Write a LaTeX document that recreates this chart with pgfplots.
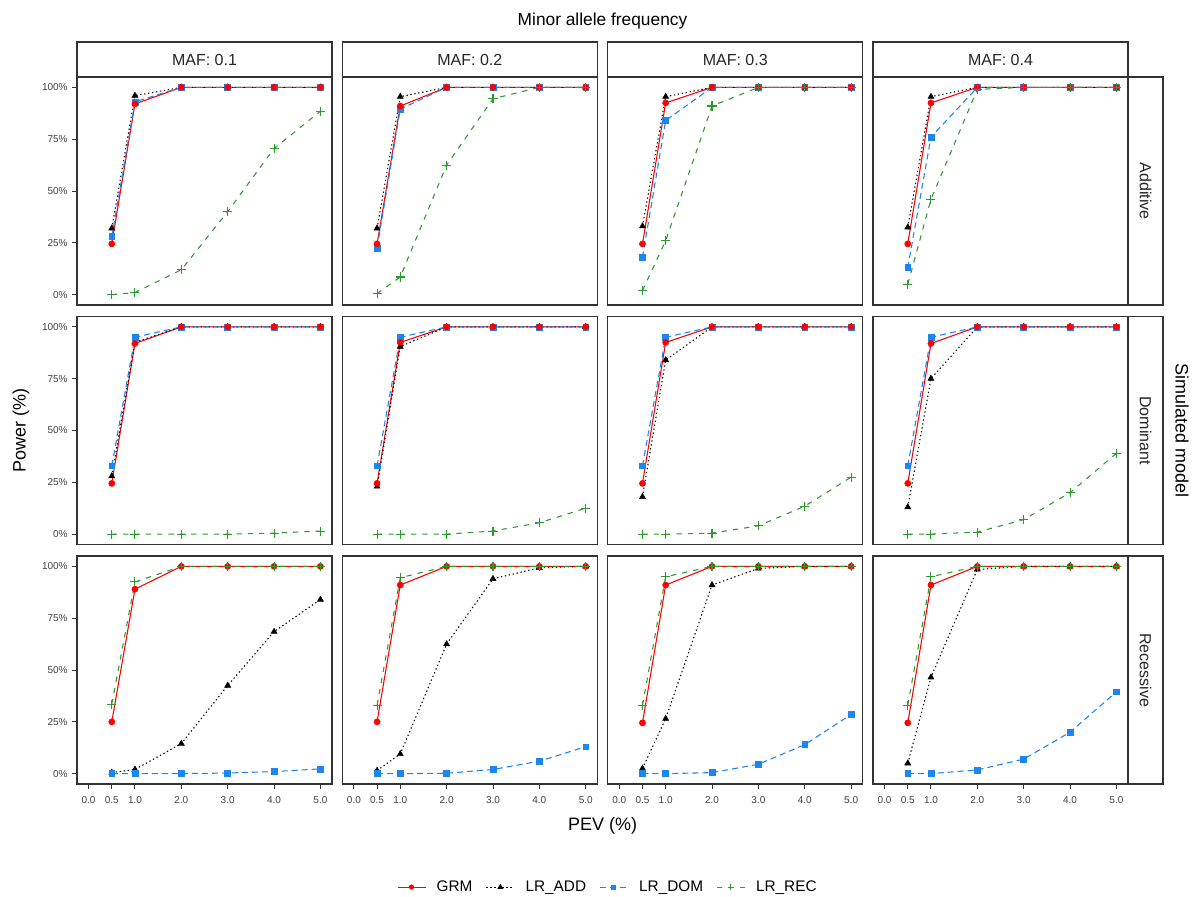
\documentclass[border=0pt]{standalone}
\usepackage{fontspec}
\setmainfont{Liberation Sans}
\usepackage{pgfplots}
\pgfplotsset{compat=1.18}
\usepackage{pgfplotstable}
\definecolor{cGRM}{HTML}{FF0000}
\definecolor{cADD}{HTML}{000000}
\definecolor{cDOM}{HTML}{1C86EE}
\definecolor{cREC}{HTML}{2C9A2C}
\definecolor{frame}{HTML}{333333}

% Additive
\pgfplotstableread{
x grm add dom rec
0.5 24.5 32 28 0
1 92 96 93 1
2 100 100 100 12
3 100 100 100 40
4 100 100 100 70.5
5 100 100 100 88.5
}\tAone
\pgfplotstableread{
x grm add dom rec
0.5 24.5 32 22.5 0.5
1 91 95.5 89.5 8.5
2 100 100 100 62.5
3 100 100 100 94.5
4 100 100 100 100
5 100 100 100 100
}\tAtwo
\pgfplotstableread{
x grm add dom rec
0.5 24.5 33 18 2
1 92.5 95.5 84 26
2 100 100 100 91
3 100 100 100 100
4 100 100 100 100
5 100 100 100 100
}\tAthree
\pgfplotstableread{
x grm add dom rec
0.5 24.5 32.5 13 5
1 92.5 95.5 76 46
2 100 100 100 99
3 100 100 100 100
4 100 100 100 100
5 100 100 100 100
}\tAfour
% Dominant
\pgfplotstableread{
x grm add dom rec
0.5 24.5 28 33 0
1 92 92.5 95 0
2 100 100 100 0
3 100 100 100 0
4 100 100 100 0.5
5 100 100 100 1.5
}\tDone
\pgfplotstableread{
x grm add dom rec
0.5 24.5 23 33 0
1 92.5 90.5 95 0
2 100 100 100 0
3 100 100 100 1.5
4 100 100 100 5.5
5 100 100 100 12.5
}\tDtwo
\pgfplotstableread{
x grm add dom rec
0.5 24.5 18 33 0
1 92.5 84 95 0
2 100 100 100 0.5
3 100 100 100 4
4 100 100 100 13.5
5 100 100 100 27.5
}\tDthree
\pgfplotstableread{
x grm add dom rec
0.5 24.5 13 33 0
1 92 75 95 0
2 100 100 100 1
3 100 100 100 7
4 100 100 100 20
5 100 100 100 39
}\tDfour
% Recessive
\pgfplotstableread{
x grm add dom rec
0.5 25 0.5 0 33.5
1 89 2 0 92.5
2 100 14.5 0 100
3 100 42.5 0.3 100
4 100 68.5 1 100
5 100 84 2.3 100
}\tRone
\pgfplotstableread{
x grm add dom rec
0.5 25 1.5 0 33
1 91 9.5 0 94.5
2 100 62.5 0.2 100
3 100 94 2 100
4 100 99.3 6 100
5 100 100 13 100
}\tRtwo
\pgfplotstableread{
x grm add dom rec
0.5 24.5 2.5 0 33
1 91 26.5 0 95
2 100 91 0.5 100
3 100 99 4.5 100
4 100 100 14 100
5 100 100 28.5 100
}\tRthree
\pgfplotstableread{
x grm add dom rec
0.5 24.5 5 0 33
1 91 46.5 0 95
2 100 98.5 1.8 100
3 100 100 7 100
4 100 100 20 100
5 100 100 39.5 100
}\tRfour

\pgfplotsset{
  panel/.style={
    scale only axis, width=191.25pt, height=171pt,
    xmin=-0.25, xmax=5.25, ymin=-5, ymax=105,
    axis line style={frame, line width=0.9pt},
    tick style={frame, line width=0.7pt},
    tick align=outside, major tick length=3.5pt,
    xtick=\empty, ytick=\empty,
    xtick pos=left, ytick pos=left,
    ticklabel style={font=\fontsize{7.5}{8}\selectfont, text=black!75},
    xticklabel style={yshift=-2pt},
    anchor=north west,
  },
  leftcol/.style={ytick={0,25,50,75,100}, yticklabels={0\%,25\%,50\%,75\%,100\%}},
  bottomrow/.style={xtick={0,0.5,1,2,3,4,5}, xticklabels={0.0,0.5,1.0,2.0,3.0,4.0,5.0}},
  lGRM/.style={forget plot, cGRM, solid, line width=0.8pt, mark=none},
  lADD/.style={forget plot, cADD, line width=0.8pt, dash pattern=on 1pt off 2pt, mark=none},
  lDOM/.style={forget plot, cDOM, line width=0.8pt, dash pattern=on 4.5pt off 3pt, mark=none},
  lREC/.style={forget plot, cREC, line width=0.8pt, dash pattern=on 4pt off 4.5pt, mark=none},
  mGRM/.style={mark=*, mark size=2.3pt, mark options={solid, fill=cGRM, draw=cGRM}},
  mADD/.style={mark=triangle*, mark size=2.6pt, mark options={solid, fill=cADD, draw=cADD}},
  mDOM/.style={mark=square*, mark size=2.2pt, mark options={solid, fill=cDOM, draw=cDOM}},
  mREC/.style={mark=+, mark size=3.4pt, mark options={solid, draw=cREC, line width=0.8pt}},
}

\newcommand\panelplots[1]{%
  \addplot[lGRM] table[x=x,y=grm]{#1};
  \addplot[lADD] table[x=x,y=add]{#1};
  \addplot[lDOM] table[x=x,y=dom]{#1};
  \addplot[lREC] table[x=x,y=rec]{#1};
  \addplot[forget plot, only marks, mADD] table[x=x,y=add]{#1};
  \addplot[forget plot, only marks, mDOM] table[x=x,y=dom]{#1};
  \addplot[forget plot, only marks, mGRM] table[x=x,y=grm]{#1};
  \addplot[forget plot, only marks, mREC] table[x=x,y=rec]{#1};
}
\newcommand\panel[4]{%
\begin{axis}[panel, at={(#2*0.75pt,-#3*0.75pt)}, #4]
  \panelplots{#1}
\end{axis}}

\begin{document}
\begin{tikzpicture}
\useasboundingbox (0,0) rectangle (1195*0.75pt,-896*0.75pt);
% row 1
\panel{\tAone}{77}{77}{leftcol}
\panel{\tAtwo}{342.3}{77}{}
\panel{\tAthree}{607.7}{77}{}
\panel{\tAfour}{873}{77}{}
% row 2
\panel{\tDone}{77}{316.5}{leftcol}
\panel{\tDtwo}{342.3}{316.5}{}
\panel{\tDthree}{607.7}{316.5}{}
\panel{\tDfour}{873}{316.5}{}
% row 3
\begin{axis}[panel, at={(77*0.75pt,-556*0.75pt)}, leftcol, bottomrow,
  legend style={at={(2.083,-0.452)}, anchor=center, draw=none, fill=none,
    legend columns=4, font=\fontsize{11.5}{13}\selectfont,
    /tikz/every odd column/.append style={column sep=6pt},
    /tikz/every even column/.append style={column sep=8pt}},
  legend image code/.code={\draw[mark repeat=2, mark phase=2] plot coordinates {(0pt,0pt) (10.5pt,0pt) (21pt,0pt)};}]
  \panelplots{\tRone}
  \addlegendimage{cGRM, solid, line width=0.8pt, mark=*, mark size=1.5pt, mark options={solid, fill=cGRM}}
  \addlegendimage{cADD, line width=0.8pt, dash pattern=on 1pt off 2pt, mark=triangle*, mark size=1.8pt, mark options={solid, fill=cADD}}
  \addlegendimage{cDOM, line width=0.8pt, dash pattern=on 4.5pt off 3pt, mark=square*, mark size=1.5pt, mark options={solid, fill=cDOM}}
  \addlegendimage{cREC, line width=0.8pt, dash pattern=on 4pt off 4.5pt, mark=+, mark size=2.5pt, mark options={solid}}
  \legend{GRM, LR\_ADD, LR\_DOM, LR\_REC}
\end{axis}
\panel{\tRtwo}{342.3}{556}{bottomrow}
\panel{\tRthree}{607.7}{556}{bottomrow}
\panel{\tRfour}{873}{556}{bottomrow}

% top strips
\foreach \L/\lab in {77/{MAF: 0.1}, 342.3/{MAF: 0.2}, 607.7/{MAF: 0.3}, 873/{MAF: 0.4}} {
  \draw[frame, line width=0.9pt, fill=white] (\L*0.75pt,-42*0.75pt) rectangle ({(\L+255)*0.75pt},-77*0.75pt);
  \node[text=black!85, font=\fontsize{12}{14}\selectfont] at ({(\L+127.5)*0.75pt},-59.5*0.75pt) {\lab};
}
% right strips
\foreach \T/\lab in {77/Additive, 316.5/Dominant, 556/Recessive} {
  \draw[frame, line width=0.9pt, fill=white] (1128*0.75pt,-\T*0.75pt) rectangle (1163*0.75pt,{-(\T+228)*0.75pt});
  \node[text=black!85, rotate=-90, font=\fontsize{12}{14}\selectfont] at (1145.5*0.75pt,{-(\T+114)*0.75pt}) {\lab};
}
% titles
\node[font=\fontsize{13}{15}\selectfont] at (602.5*0.75pt,-21*0.75pt) {Minor allele frequency};
\node[font=\fontsize{13.5}{15}\selectfont, rotate=-90] at (1182*0.75pt,-430.5*0.75pt) {Simulated model};
\node[font=\fontsize{13.5}{15}\selectfont, rotate=90] at (21*0.75pt,-430.5*0.75pt) {Power (\%)};
\node[font=\fontsize{13.5}{15}\selectfont] at (602.5*0.75pt,-826*0.75pt) {PEV (\%)};
\end{tikzpicture}
\end{document}
